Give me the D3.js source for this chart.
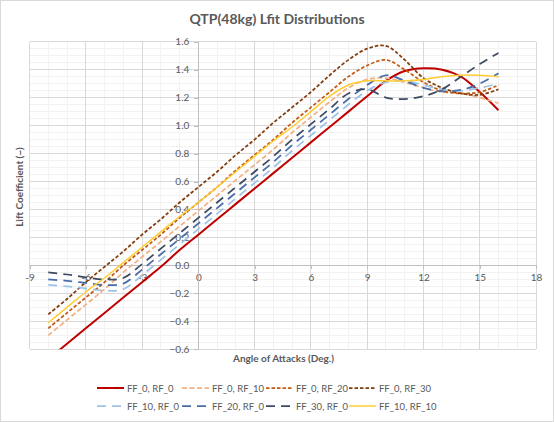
<!DOCTYPE html>
<html><head><meta charset="utf-8">
<script src="https://cdn.jsdelivr.net/npm/d3@7"></script>
<style>html,body{margin:0;padding:0;background:#fff;}svg{display:block;font-family:Lato,"Open Sans",sans-serif;}</style>
</head><body><svg id="c" width="554" height="422"></svg>
<script>
const angles = [-8,-7,-6,-5,-4,-3,-2,-1,0,1,2,3,4,5,6,7,8,9,10,11,12,13,14,15,16];
const ff0rf0  = [-0.67,-0.56,-0.45,-0.34,-0.23,-0.12,-0.01,0.11,0.22,0.33,0.44,0.55,0.66,0.77,0.88,0.99,1.10,1.21,1.32,1.39,1.41,1.40,1.35,1.24,1.11];
const ff0rf10 = [-0.50,-0.39,-0.28,-0.17,-0.05,0.06,0.17,0.28,0.39,0.50,0.61,0.72,0.83,0.95,1.06,1.17,1.27,1.33,1.34,1.31,1.27,1.24,1.23,1.20,1.16];
const ff0rf20 = [-0.45,-0.34,-0.23,-0.12,0.00,0.11,0.22,0.34,0.45,0.56,0.68,0.79,0.90,1.02,1.13,1.24,1.35,1.43,1.47,1.40,1.31,1.25,1.23,1.24,1.29];
const ff0rf30 = [-0.35,-0.24,-0.12,-0.01,0.10,0.22,0.33,0.45,0.56,0.67,0.79,0.90,1.02,1.13,1.24,1.36,1.47,1.55,1.57,1.47,1.34,1.27,1.23,1.22,1.26];
const ff10rf0 = [-0.14,-0.15,-0.165,-0.18,-0.17,-0.07,0.04,0.15,0.26,0.37,0.48,0.59,0.70,0.82,0.93,1.04,1.15,1.25,1.31,1.32,1.29,1.26,1.25,1.27,1.30];
const ff20rf0 = [-0.10,-0.11,-0.125,-0.14,-0.13,-0.03,0.08,0.19,0.30,0.41,0.52,0.63,0.74,0.86,0.97,1.08,1.19,1.29,1.36,1.32,1.27,1.245,1.255,1.30,1.375];
const ff30rf0 = [-0.05,-0.065,-0.085,-0.10,-0.09,0.01,0.12,0.23,0.34,0.45,0.56,0.67,0.78,0.90,1.01,1.12,1.23,1.26,1.20,1.19,1.21,1.26,1.35,1.44,1.52];
const ff10rf10= [-0.41,-0.30,-0.19,-0.09,0.02,0.13,0.24,0.35,0.45,0.56,0.67,0.78,0.89,0.99,1.10,1.21,1.29,1.32,1.32,1.32,1.33,1.35,1.36,1.36,1.35];
const seriesNames = ["FF_0, RF_0","FF_0, RF_10","FF_0, RF_20","FF_0, RF_30","FF_10, RF_0","FF_20, RF_0","FF_30, RF_0","FF_10, RF_10"];
const xTicks = [-9,-6,-3,0,3,6,9,12,15,18];
const yTicks = [-0.6,-0.4,-0.2,0,0.2,0.4,0.6,0.8,1.0,1.2,1.4,1.6];
const title = "QTP(48kg) Lfit Distributions";
const xTitle = "Angle of Attacks (Deg.)";
const yTitle = "Lift Coefficient (~)";

const seriesData = [ff0rf0,ff0rf10,ff0rf20,ff0rf30,ff10rf0,ff20rf0,ff30rf0,ff10rf10];
const styles = [
  {c:"#C00000", w:2, d:null},
  {c:"#F4B183", w:1.75, d:"5,2.5"},
  {c:"#C55A11", w:1.75, d:"3.5,2"},
  {c:"#843C0C", w:1.75, d:"3.5,2"},
  {c:"#9DC3E6", w:1.75, d:"9,6"},
  {c:"#4A6DAA", w:1.75, d:"9,6"},
  {c:"#3E4A62", w:1.75, d:"9,6"},
  {c:"#FFCC33", w:1.5, d:null}
];

const svg = d3.select("#c");
const W=554,H=422;
svg.append("rect").attr("x",0.5).attr("y",0.5).attr("width",W-1).attr("height",H-1).attr("fill","#fff").attr("stroke","#D9D9D9");

const x = d3.scaleLinear().domain([-9,18]).range([29.5,536]);
const y = d3.scaleLinear().domain([-0.6,1.6]).range([349.3,41.7]);
const txt = "#595959";

// minor grid
const g = svg.append("g");
g.selectAll(".mx").data(d3.range(-9,18.5,1)).join("line")
  .attr("x1",d=>x(d)).attr("x2",d=>x(d)).attr("y1",y(-0.6)).attr("y2",y(1.6))
  .attr("stroke","#F2F2F2").attr("stroke-width",1).attr("shape-rendering","crispEdges");
g.selectAll(".my").data(d3.range(-0.6,1.6001,0.05)).join("line")
  .attr("y1",d=>y(d)).attr("y2",d=>y(d)).attr("x1",x(-9)).attr("x2",x(18))
  .attr("stroke","#F2F2F2").attr("stroke-width",1).attr("shape-rendering","crispEdges");
// major grid
g.selectAll(".Mx").data(xTicks).join("line")
  .attr("x1",d=>x(d)).attr("x2",d=>x(d)).attr("y1",y(-0.6)).attr("y2",y(1.6))
  .attr("stroke","#D9D9D9").attr("stroke-width",1).attr("shape-rendering","crispEdges");
g.selectAll(".My").data(yTicks).join("line")
  .attr("y1",d=>y(d)).attr("y2",d=>y(d)).attr("x1",x(-9)).attr("x2",x(18))
  .attr("stroke","#D9D9D9").attr("stroke-width",1).attr("shape-rendering","crispEdges");

// axes
const xAxis = d3.axisBottom(x).tickValues(xTicks).tickFormat(d=>d).tickSize(4).tickPadding(4);
const xa = svg.append("g").attr("transform",`translate(0,${y(0)})`).call(xAxis);
const yAxis = d3.axisLeft(y).tickValues(yTicks).tickFormat(d3.format(".1f")).tickSize(4).tickPadding(5);
const ya = svg.append("g").attr("transform",`translate(${x(0)},0)`).call(yAxis);
[xa,ya].forEach(a=>{
  a.select(".domain").attr("stroke","#BFBFBF").attr("shape-rendering","crispEdges");
  a.selectAll(".tick line").attr("stroke","#BFBFBF").attr("shape-rendering","crispEdges");
  a.selectAll(".tick text").attr("fill",txt).attr("font-size","10px").attr("font-family","Lato,sans-serif");
});

// series
svg.append("clipPath").attr("id","clip").append("rect")
  .attr("x",x(-9)).attr("y",y(1.6)).attr("width",x(18)-x(-9)).attr("height",y(-0.6)-y(1.6));
const line = d3.line().x(d=>x(d[0])).y(d=>y(d[1])).curve(d3.curveCatmullRom.alpha(0.5));
const sg = svg.append("g").attr("clip-path","url(#clip)");
seriesData.forEach((vals,i)=>{
  const st=styles[i];
  sg.append("path").datum(angles.map((a,j)=>[a,vals[j]]))
    .attr("d",line).attr("fill","none").attr("stroke",st.c).attr("stroke-width",st.w)
    .attr("stroke-dasharray",st.d).attr("stroke-linejoin","round");
});

// titles
svg.append("text").attr("x",277).attr("y",24).attr("text-anchor","middle")
  .attr("font-size","14px").attr("font-weight","bold").attr("fill",txt).text(title);
svg.append("text").attr("x",283.5).attr("y",362).attr("text-anchor","middle")
  .attr("font-size","10px").attr("font-weight","bold").attr("fill",txt).text(xTitle);
svg.append("text").attr("transform","translate(23,187) rotate(-90)").attr("text-anchor","middle")
  .attr("font-size","10px").attr("font-weight","bold").attr("fill",txt).text(yTitle);

// legend
const legPos = [[97,388],[182,388],[266,388],[349,388],[97,406],[182,406],[266,406],[349,406]];
const lg = svg.append("g");
seriesNames.forEach((n,i)=>{
  const [lx,ly]=legPos[i]; const st=styles[i];
  lg.append("line").attr("x1",lx).attr("x2",lx+27).attr("y1",ly).attr("y2",ly)
    .attr("stroke",st.c).attr("stroke-width",st.w).attr("stroke-dasharray",st.d);
  lg.append("text").attr("x",lx+30).attr("y",ly+3.5).attr("font-size","9.5px").attr("fill",txt).text(n);
});
</script></body></html>
